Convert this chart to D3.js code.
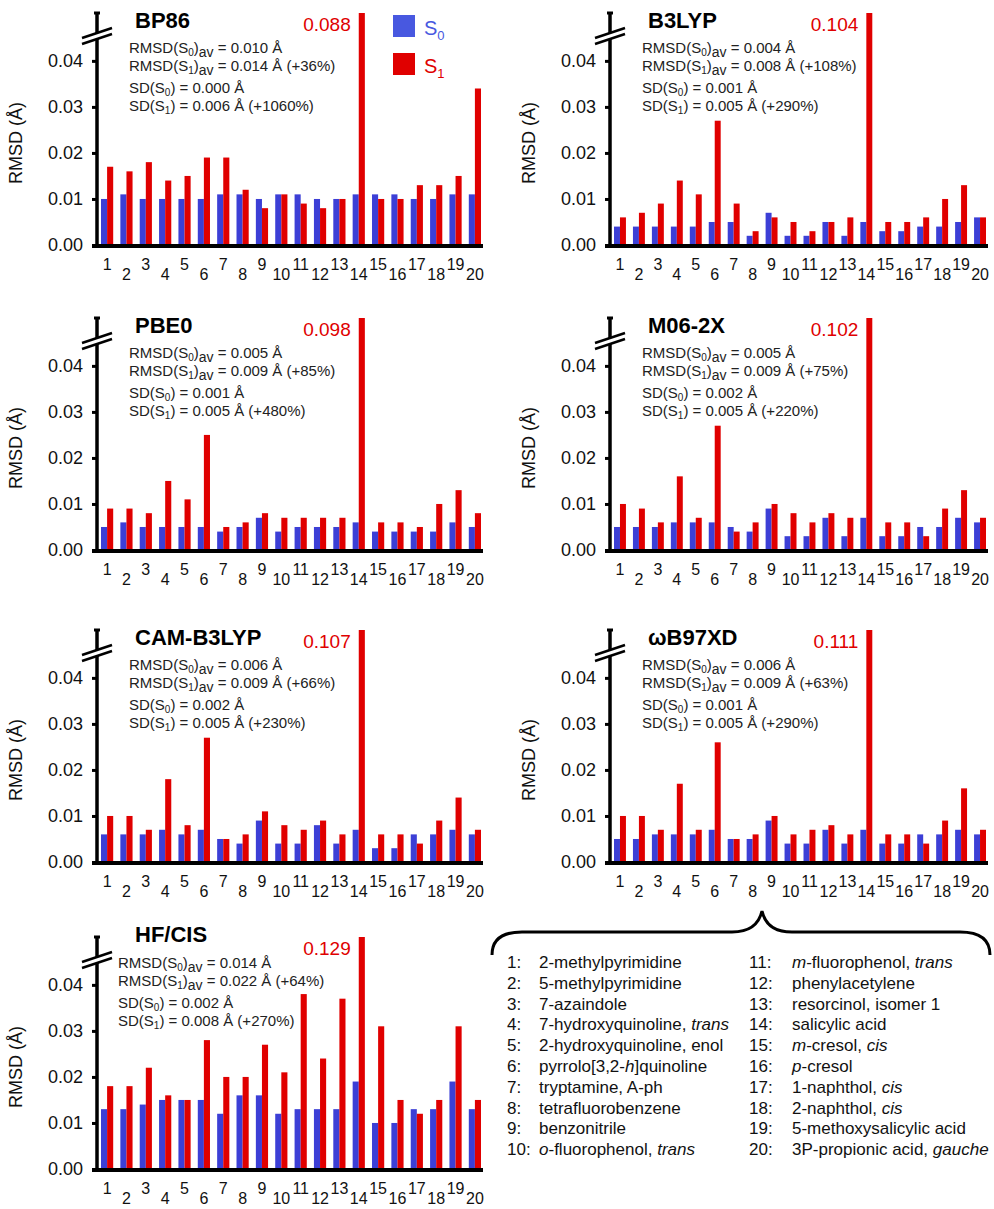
<!DOCTYPE html>
<meta charset="utf-8">
<style>
body { margin: 0; background: #fff; }
text { font-family: "Liberation Sans", Arial, sans-serif; }
</style>
<svg width="994" height="1209"></svg>
<script src="https://d3js.org/d3.v7.min.js"></script>
<script>

// molecules 1..20
var molecules = ["1","2","3","4","5","6","7","8","9","10","11","12","13","14","15","16","17","18","19","20"];

// RMSD values (Å)
var bp86S0  = [0.010,0.011,0.010,0.010,0.010,0.010,0.011,0.011,0.010,0.011,0.011,0.010,0.010,0.011,0.011,0.011,0.010,0.010,0.011,0.011];
var bp86S1  = [0.017,0.016,0.018,0.014,0.015,0.019,0.019,0.012,0.008,0.011,0.009,0.008,0.010,0.088,0.010,0.010,0.013,0.013,0.015,0.034];
var b3lypS0 = [0.004,0.004,0.004,0.004,0.004,0.005,0.005,0.002,0.007,0.002,0.002,0.005,0.002,0.005,0.003,0.003,0.004,0.004,0.005,0.006];
var b3lypS1 = [0.006,0.007,0.009,0.014,0.011,0.027,0.009,0.003,0.006,0.005,0.003,0.005,0.006,0.104,0.005,0.005,0.006,0.010,0.013,0.006];
var pbe0S0  = [0.005,0.006,0.005,0.005,0.005,0.005,0.004,0.005,0.007,0.004,0.005,0.005,0.005,0.006,0.004,0.004,0.004,0.004,0.006,0.005];
var pbe0S1  = [0.009,0.009,0.008,0.015,0.011,0.025,0.005,0.006,0.008,0.007,0.007,0.007,0.007,0.098,0.006,0.006,0.005,0.010,0.013,0.008];
var m062xS0 = [0.005,0.005,0.005,0.006,0.006,0.006,0.005,0.004,0.009,0.003,0.003,0.007,0.003,0.007,0.003,0.003,0.005,0.005,0.007,0.006];
var m062xS1 = [0.010,0.009,0.006,0.016,0.007,0.027,0.004,0.006,0.010,0.008,0.006,0.008,0.007,0.102,0.006,0.006,0.003,0.009,0.013,0.007];
var camS0   = [0.006,0.006,0.006,0.007,0.006,0.007,0.005,0.004,0.009,0.004,0.004,0.008,0.004,0.007,0.003,0.003,0.006,0.006,0.007,0.006];
var camS1   = [0.010,0.010,0.007,0.018,0.008,0.027,0.005,0.006,0.011,0.008,0.007,0.009,0.006,0.107,0.006,0.006,0.004,0.009,0.014,0.007];
var wb97S0  = [0.005,0.005,0.006,0.006,0.006,0.007,0.005,0.005,0.009,0.004,0.004,0.007,0.004,0.007,0.004,0.004,0.006,0.006,0.007,0.006];
var wb97S1  = [0.010,0.010,0.007,0.017,0.007,0.026,0.005,0.006,0.010,0.006,0.007,0.008,0.006,0.111,0.006,0.006,0.004,0.009,0.016,0.007];
var hfS0    = [0.013,0.013,0.014,0.015,0.015,0.015,0.012,0.016,0.016,0.012,0.013,0.013,0.013,0.019,0.010,0.010,0.013,0.013,0.019,0.013];
var hfS1    = [0.018,0.018,0.022,0.016,0.015,0.028,0.020,0.020,0.027,0.021,0.038,0.024,0.037,0.129,0.031,0.015,0.012,0.015,0.031,0.015];

// stats: RMSD(S0)av, RMSD(S1)av, change, SD(S0), SD(S1), change
var bp86Stats  = ["0.010","0.014","+36%","0.000","0.006","+1060%"];
var b3lypStats = ["0.004","0.008","+108%","0.001","0.005","+290%"];
var pbe0Stats  = ["0.005","0.009","+85%","0.001","0.005","+480%"];
var m062xStats = ["0.005","0.009","+75%","0.002","0.005","+220%"];
var camStats   = ["0.006","0.009","+66%","0.002","0.005","+230%"];
var wb97Stats  = ["0.006","0.009","+63%","0.001","0.005","+290%"];
var hfStats    = ["0.014","0.022","+64%","0.002","0.008","+270%"];

var yTicks = [0, 0.01, 0.02, 0.03, 0.04];

var names = [
  "2-methylpyrimidine", "5-methylpyrimidine", "7-azaindole", "7-hydroxyquinoline, *trans*",
  "2-hydroxyquinoline, enol", "pyrrolo[3,2-*h*]quinoline", "tryptamine, A-ph", "tetrafluorobenzene",
  "benzonitrile", "*o*-fluorophenol, *trans*", "*m*-fluorophenol, *trans*", "phenylacetylene",
  "resorcinol, isomer 1", "salicylic acid", "*m*-cresol, *cis*", "*p*-cresol",
  "1-naphthol, *cis*", "2-naphthol, *cis*", "5-methoxysalicylic acid", "3P-propionic acid, *gauche*"
];

var panels = [
  {name: "BP86",      s0: bp86S0,  s1: bp86S1,  stats: bp86Stats,  col: 0, row: 0},
  {name: "B3LYP",     s0: b3lypS0, s1: b3lypS1, stats: b3lypStats, col: 1, row: 0},
  {name: "PBE0",      s0: pbe0S0,  s1: pbe0S1,  stats: pbe0Stats,  col: 0, row: 1},
  {name: "M06-2X",    s0: m062xS0, s1: m062xS1, stats: m062xStats, col: 1, row: 1},
  {name: "CAM-B3LYP", s0: camS0,   s1: camS1,   stats: camStats,   col: 0, row: 2},
  {name: "\u03c9B97XD", s0: wb97S0, s1: wb97S1, stats: wb97Stats,  col: 1, row: 2},
  {name: "HF/CIS",    s0: hfS0,    s1: hfS1,    stats: hfStats,    col: 0, row: 3}
];

var svg = d3.select("svg");
var colX = [97, 610], rowY = [245, 550, 862, 1169];
var colW = [384, 376];   // right column is squeezed by the page edge
var axisH = 232;
var blue = "#3c3fd6", red = "#e00000";

var y = d3.scaleLinear().domain([0, 0.0504]).range([0, -axisH]).clamp(true);
var color = d3.scaleOrdinal().domain(["S0", "S1"]).range([blue, red]);

// text with small subscripts: parts = [[text, subType]]
function richText(sel, parts) {
  var shift = 0;
  parts.forEach(function(p) {
    var t = sel.append("tspan").text(p[0]);
    var want = p[1] === "s" ? 3 : p[1] === "a" ? 4 : 0;
    if (want !== shift) t.attr("dy", want - shift);
    if (p[1] === "s") t.attr("font-size", 10);
    if (p[1] === "a") t.attr("font-size", 14);
    shift = want;
  });
}

panels.forEach(function(p) {
  var hf = p.name === "HF/CIS";
  var g = svg.append("g").attr("transform", "translate(" + colX[p.col] + "," + rowY[p.row] + ")");

  var x0 = d3.scaleBand().domain(molecules).range([4, colW[p.col]]).paddingInner(0.37);
  var x1 = d3.scaleBand().domain(["S0", "S1"]).range([0, x0.bandwidth()]);

  var rows = molecules.map(function(m, i) {
    return {mol: m, vals: [{key: "S0", v: p.s0[i]}, {key: "S1", v: p.s1[i]}]};
  });

  g.append("g").selectAll("g")
    .data(rows)
    .enter().append("g")
      .attr("transform", function(d) { return "translate(" + x0(d.mol) + ",0)"; })
    .selectAll("rect")
    .data(function(d) { return d.vals; })
    .enter().append("rect")
      .attr("x", function(d) { return x1(d.key); })
      .attr("y", function(d) { return y(d.v); })
      .attr("width", x1.bandwidth())
      .attr("height", function(d) { return -y(d.v); })
      .attr("fill", function(d) { return color(d.key); });

  // y axis
  var ya = g.append("g")
    .call(d3.axisLeft(y).tickValues(yTicks).tickFormat(d3.format(".2f")).tickSize(5).tickPadding(9));
  ya.select(".domain").remove();
  ya.selectAll(".tick line").attr("stroke", "#000").attr("stroke-width", 3);
  ya.selectAll(".tick text").attr("font-size", 18).attr("fill", "#111")
    .attr("font-family", "Liberation Sans, Arial, sans-serif");

  // axis line with break
  var bc = -209;
  g.append("line").attr("x1", 0).attr("x2", 0).attr("y1", 1).attr("y2", bc + 3)
    .attr("stroke", "#000").attr("stroke-width", 3.5);
  g.append("line").attr("x1", 0).attr("x2", 0).attr("y1", bc - 3).attr("y2", -axisH)
    .attr("stroke", "#000").attr("stroke-width", 3.5);
  g.append("line").attr("x1", -3).attr("x2", 3).attr("y1", -axisH).attr("y2", -axisH)
    .attr("stroke", "#000").attr("stroke-width", 3);
  [-3, 3].forEach(function(o) {
    g.append("line")
      .attr("x1", -15).attr("y1", bc + o + 5)
      .attr("x2", 15).attr("y2", bc + o - 5)
      .attr("stroke", "#000").attr("stroke-width", 2.5);
  });

  // x axis
  var xa = g.append("g").call(d3.axisBottom(x0).tickSize(0));
  xa.select(".domain").remove();
  xa.selectAll(".tick text")
    .attr("font-size", 16).attr("fill", "#111").attr("dy", null)
    .attr("font-family", "Liberation Sans, Arial, sans-serif")
    .attr("y", function(d, i) { return i % 2 === 0 ? 25 : 35; });
  g.append("line").attr("x1", -5).attr("x2", colW[p.col] + 2).attr("y1", 1).attr("y2", 1)
    .attr("stroke", "#000").attr("stroke-width", 4);

  g.append("text")
    .attr("transform", "translate(-75," + -102 + ") rotate(-90)")
    .attr("text-anchor", "middle").attr("font-size", 18).attr("fill", "#111")
    .text("RMSD (\u00c5)");

  g.append("text")
    .attr("x", 38).attr("y", hf ? -227 : -217)
    .attr("font-size", 22).attr("font-weight", "bold")
    .text(p.name);

  // clipped bar value
  var imax = d3.maxIndex(p.s1);
  g.append("text")
    .attr("x", x0(molecules[imax]) + x1("S1") - 8).attr("y", -214)
    .attr("text-anchor", "end").attr("font-size", 19).attr("fill", red)
    .text(d3.format(".3f")(p.s1[imax]));

  var sx = hf ? 21 : 32, sy = hf ? -201 : -192;
  var st = p.stats;
  var lines = [
    [["RMSD(S"], ["0", "s"], [")"], ["av", "a"], [" = " + st[0] + " \u00c5"]],
    [["RMSD(S"], ["1", "s"], [")"], ["av", "a"], [" = " + st[1] + " \u00c5 (" + st[2] + ")"]],
    [["SD(S"], ["0", "s"], [") = " + st[3] + " \u00c5"]],
    [["SD(S"], ["1", "s"], [") = " + st[4] + " \u00c5 (" + st[5] + ")"]]
  ];
  var offs = [0, 18, 40, 58];
  lines.forEach(function(l, i) {
    var t = g.append("text").attr("x", sx).attr("y", sy + offs[i])
      .attr("font-size", 15).attr("fill", "#222");
    richText(t, l);
  });
});

// legend
var leg = svg.append("g");
[["S0", blue, 15, 35], ["S1", red, 53, 73]].forEach(function(l) {
  leg.append("rect").attr("x", 393).attr("y", l[2]).attr("width", 22).attr("height", 22)
    .attr("fill", l[0] === "S0" ? "#4858e0" : red);
  var t = leg.append("text").attr("x", 424).attr("y", l[3]).attr("font-size", 20)
    .attr("fill", l[0] === "S0" ? "#4858e0" : red);
  t.append("tspan").text("S");
  t.append("tspan").attr("font-size", 13).attr("dy", 5).text(l[0].slice(1));
});

// brace
svg.append("path")
  .attr("d", "M492,955 C492,941 500,932 522,932 L732,932 C750,932 759,924 762,911 C765,924 774,932 792,932 L960,932 C981,932 990,941 990,955")
  .attr("fill", "none").attr("stroke", "#000").attr("stroke-width", 3);

// molecule list
var list = svg.append("g").attr("font-size", 17).attr("fill", "#111");
names.forEach(function(n, i) {
  var c = i < 10 ? 0 : 1, r = i % 10;
  var yy = 968 + r * 20.8;
  list.append("text").attr("x", c ? 749 : 507).attr("y", yy).text(molecules[i] + ":");
  var t = list.append("text").attr("x", c ? 792 : 539).attr("y", yy);
  n.split("*").forEach(function(s, k) {
    if (!s) return;
    var ts = t.append("tspan").text(s);
    if (k % 2 === 1) ts.attr("font-style", "italic");
  });
});

</script>
